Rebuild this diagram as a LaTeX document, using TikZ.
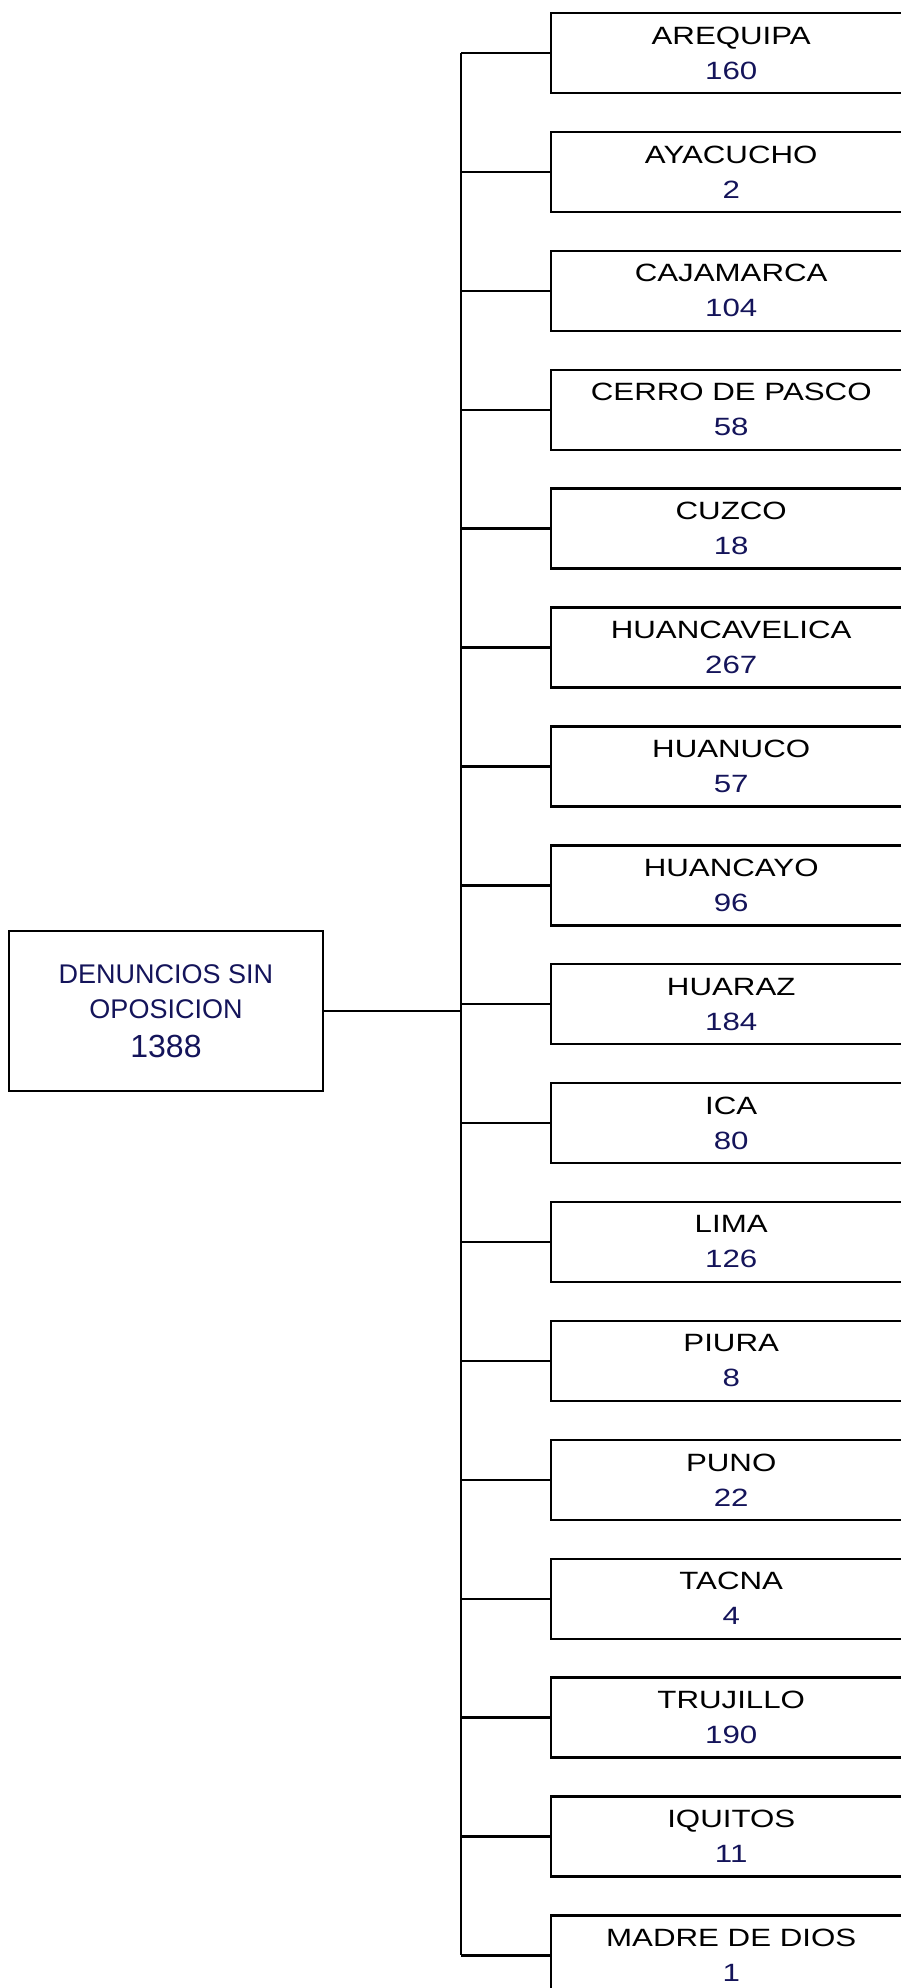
\documentclass[tikz,border=0pt]{standalone}
\usepackage{fontspec}
\setmainfont{Liberation Sans}
\newfontfamily\widefont[FakeStretch=1.25]{Liberation Sans}
\usepackage{xcolor}
\definecolor{navy1}{HTML}{14145A}

\begin{document}
\begin{tikzpicture}[x=1pt, y=-1pt, line width=2.4pt,
  city/.style={draw, minimum width=360pt, minimum height=80pt, inner sep=0pt, align=center, font=\widefont\fontsize{25}{35}\selectfont},
  root/.style={draw, minimum width=314pt, minimum height=160pt, align=center, text=navy1, font=\fontsize{27}{35}\selectfont}]
  \useasboundingbox (0,0) rectangle (901,1988);
  \node[root] (root) at (166,1011) {DENUNCIOS SIN\\OPOSICION\\[4pt]{\fontsize{32}{39}\selectfont 1388}};
  \coordinate (bus) at (461,1011);
  \draw (root.east) -- (bus);
  \foreach \name/\val [count=\i from 0] in {AREQUIPA/160, AYACUCHO/2, CAJAMARCA/104, CERRO DE PASCO/58, CUZCO/18, HUANCAVELICA/267, HUANUCO/57, HUANCAYO/96, HUARAZ/184, ICA/80, LIMA/126, PIURA/8, PUNO/22, TACNA/4, TRUJILLO/190, IQUITOS/11, MADRE DE DIOS/1} {
    \node[city, anchor=west] (c\i) at (550, {53+118.9*\i}) {\name\\\textcolor{navy1}{\val}};
    \draw (c\i.west) -- (c\i.west -| bus);
  }
  \draw (bus |- c0.west) -- (bus |- c16.west);
\end{tikzpicture}
\end{document}
